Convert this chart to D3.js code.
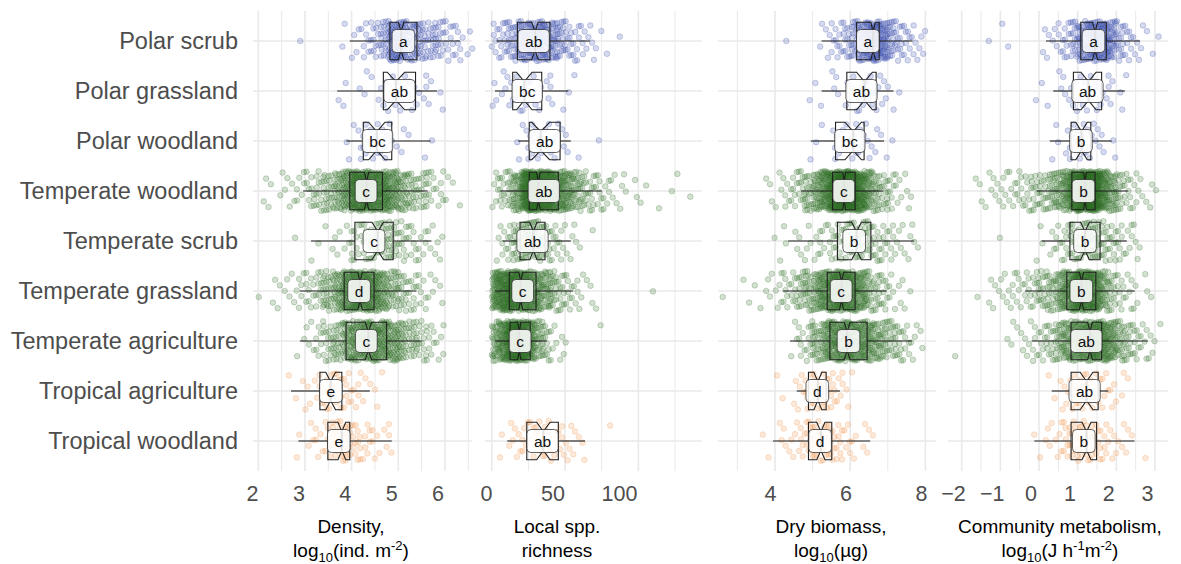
<!DOCTYPE html>
<html>
<head>
<meta charset="utf-8">
<script src="https://cdn.jsdelivr.net/npm/d3@7"></script>
<style>
  body { margin: 0; background: #fff; }
  svg { display: block; }
  text { font-family: "Liberation Sans", Arial, Helvetica, sans-serif; }
</style>
</head>
<body>
<svg id="chart" width="1181" height="564"></svg>
<script>
// Biomes, top to bottom, and the climate zone that sets each colour
const biomes = ["Polar scrub", "Polar grassland", "Polar woodland", "Temperate woodland",
  "Temperate scrub", "Temperate grassland", "Temperate agriculture", "Tropical agriculture", "Tropical woodland"];
const zones = ["Polar", "Polar", "Polar", "Temperate", "Temperate", "Temperate", "Temperate", "Tropical", "Tropical"];
const zoneColors = { Polar: "#3344aa", Temperate: "#2a6b1f", Tropical: "#ee9247" };

// Box summaries: [lower whisker, Q1, median, Q3, upper whisker]
const densityStats = [
  [3.96, 4.82, 5.06, 5.40, 6.32], [3.69, 4.68, 4.95, 5.37, 5.83], [3.89, 4.25, 4.54, 4.86, 5.69],
  [2.96, 3.96, 4.32, 4.66, 5.63], [3.13, 4.07, 4.56, 4.89, 5.71], [2.89, 3.84, 4.18, 4.48, 5.39],
  [2.89, 3.88, 4.36, 4.75, 5.50], [2.70, 3.32, 3.55, 3.79, 4.39], [2.86, 3.49, 3.79, 3.96, 4.86]];
const densityLetters = ["a", "ab", "bc", "c", "c", "d", "c", "e", "e"];

const richnessStats = [
  [3.4, 17.5, 29.5, 39.7, 67], [2.2, 14.3, 22.2, 34.1, 52.2], [18, 25.6, 33.4, 46.6, 53.9],
  [6, 25.6, 31.8, 45.4, 75], [7.5, 19.3, 28.4, 36.3, 53.9], [2.3, 12, 19.8, 30.2, 55.6],
  [2.3, 12.5, 18.8, 26.2, 37.5], null, [10.6, 23.9, 35.2, 45.4, 63.6]];
const richnessLetters = ["ab", "bc", "ab", "ab", "ab", "c", "c", "", "ab"];

const biomassStats = [
  [5.24, 6.17, 6.61, 6.77, 7.66], [5.24, 5.91, 6.38, 6.69, 7.15], [4.95, 5.61, 6.08, 6.37, 6.90],
  [4.69, 5.53, 5.84, 6.13, 6.88], [4.35, 5.66, 6.17, 6.55, 7.70], [4.22, 5.39, 5.77, 6.13, 6.97],
  [4.40, 5.46, 5.92, 6.45, 7.64], [4.58, 4.89, 5.14, 5.36, 5.73], [3.95, 4.89, 5.22, 5.51, 6.53]];
const biomassLetters = ["a", "ab", "bc", "c", "b", "c", "b", "d", "d"];

const metabolismStats = [
  [0.18, 1.08, 1.45, 1.74, 2.61], [0.37, 0.89, 1.28, 1.62, 2.22], [0.28, 0.83, 1.10, 1.34, 1.88],
  [-0.06, 0.85, 1.19, 1.45, 2.31], [0.07, 0.80, 1.19, 1.58, 2.27], [-0.36, 0.72, 1.10, 1.47, 2.48],
  [-0.19, 0.83, 1.32, 1.62, 2.81], [0.33, 0.83, 1.23, 1.53, 1.79], [-0.12, 0.83, 1.23, 1.49, 2.47]];
const metabolismLetters = ["a", "ab", "b", "b", "b", "b", "ab", "ab", "b"];

// Sites per value bin, one row per biome. Bins start at *BinStart and are *BinWidth wide.
const densityBinStart = 2.0, densityBinWidth = 0.2;   // 2.0 … 6.6
const densityCounts = [
  [0,0,0,0,1,0,0,0,0,2,4,7,12,22,45,45,30,22,18,14,10,7,3],
  [0,0,0,0,0,0,0,0,1,2,1,2,2,4,5,5,4,3,3,2,0,0,0],
  [0,0,0,0,0,0,0,0,0,2,3,6,6,5,3,2,1,1,1,0,0,0,0],
  [2,2,3,4,6,9,14,20,30,45,80,90,70,65,45,30,20,14,10,6,3,1,0],
  [0,0,0,1,0,1,1,2,3,5,8,11,14,16,15,12,8,6,4,3,0,0,0],
  [1,2,3,4,6,9,14,22,35,55,70,70,55,38,24,16,11,7,4,2,0,0,0],
  [0,0,0,0,2,4,8,14,22,36,46,52,54,48,38,28,20,13,8,5,0,0,0],
  [0,0,0,1,2,3,6,9,10,8,5,3,2,1,0,0,0,0,0,0,0,0,0],
  [0,0,0,0,2,3,5,9,14,18,12,7,5,3,2,0,0,0,0,0,0,0,0]];

const richnessBinStart = 0, richnessBinWidth = 5;     // 0 … 140
const richnessCounts = [
  [6,10,16,22,28,32,34,30,24,16,11,8,5,4,2,1,0,1,0,0,0,0,0,0,0,0,0,0],
  [3,3,4,5,5,4,3,3,2,1,1,1,0,0,0,0,0,0,0,0,0,0,0,0,0,0,0,0],
  [0,0,0,2,3,5,5,4,4,3,2,1,0,0,1,0,0,0,0,0,0,0,0,0,0,0,0,0],
  [6,10,16,28,70,100,95,75,60,45,32,22,16,11,8,5,4,3,2,2,1,1,1,0,1,1,0,1],
  [2,5,9,15,20,20,17,12,8,5,3,2,1,1,0,0,0,0,0,0,0,0,0,0,0,0,0,0],
  [45,60,70,65,55,45,35,25,18,12,8,5,3,2,1,0,0,0,0,0,0,1,0,0,0,0,0,0],
  [30,45,75,90,70,45,22,11,5,3,1,0,0,0,1,0,0,0,0,0,0,0,0,0,0,0,0,0],
  [],
  [0,2,3,4,5,6,7,7,6,5,4,3,2,0,0,0,1,0,0,0,0,0,0,0,0,0,0,0]];

const biomassBinStart = 2.6, biomassBinWidth = 0.2;   // 2.6 … 8.0
const biomassCounts = [
  [0,0,0,0,0,0,0,0,1,0,0,0,0,3,5,8,12,18,30,42,48,34,20,12,8,5,4],
  [0,0,0,0,0,0,0,0,0,0,0,1,1,1,2,2,3,4,5,5,4,3,2,1,0,0,0],
  [0,0,0,0,0,0,0,0,0,0,0,1,1,1,2,3,4,5,4,4,2,2,1,0,0,0,0],
  [0,0,0,0,0,1,2,3,5,8,12,18,28,45,70,95,100,85,60,35,20,12,8,5,3,1,0],
  [0,0,0,0,0,0,1,1,2,2,3,3,4,5,7,9,11,12,13,12,10,8,6,4,3,2,1],
  [1,0,1,1,1,2,3,5,7,10,14,20,28,40,55,62,60,50,35,22,14,9,5,3,2,0,0],
  [0,0,0,0,0,0,0,0,0,3,6,10,18,28,40,45,46,44,40,34,27,21,15,10,7,4,2],
  [0,0,0,0,0,0,0,1,1,2,4,7,9,10,8,5,2,1,0,0,0,0,0,0,0,0,0],
  [0,0,0,0,0,1,1,2,3,4,6,9,11,12,10,8,5,3,2,2,1,0,0,0,0,0,0]];

const metabolismBinStart = -2.2, metabolismBinWidth = 0.2;   // -2.2 … 3.2
const metabolismCounts = [
  [0,0,0,0,1,0,1,1,0,0,0,2,3,5,9,16,28,38,45,42,28,14,8,4,3,1,1],
  [0,0,0,0,0,0,0,0,0,0,1,1,1,2,3,4,5,5,4,3,3,2,1,0,0,0,0],
  [0,0,0,0,0,0,0,0,0,0,0,0,1,2,3,5,6,5,4,2,2,0,0,0,0,0,0],
  [0,0,1,2,3,4,5,6,7,9,11,14,18,25,40,70,100,110,90,50,28,15,9,5,3,2,1],
  [0,0,0,0,0,1,0,0,0,0,1,2,3,5,8,12,15,17,16,13,10,7,5,3,1,0,0],
  [0,0,0,1,2,3,4,5,6,8,10,13,18,26,40,60,75,70,50,28,14,8,5,3,2,1,0],
  [1,0,0,0,0,0,1,2,3,4,6,8,11,20,30,40,45,52,55,50,35,22,14,9,6,4,1],
  [0,0,0,0,0,0,0,0,0,0,0,0,1,2,4,6,7,7,6,5,4,2,1,0,0,0,0],
  [0,0,0,0,0,0,0,0,0,0,1,2,3,5,8,11,13,12,9,6,4,3,2,1,1,0,0]];

// Axis tick values per panel
const densityTicks = [2, 3, 4, 5, 6];
const richnessTicks = [0, 50, 100];
const biomassTicks = [4, 6, 8];
const metabolismTicks = [-2, -1, 0, 1, 2, 3];

// Axis titles (markup: _{..} subscript, ^{..} superscript)
const densityTitle = ["Density,", "log_{10}(ind. m^{-2})"];
const richnessTitle = ["Local spp.", "richness"];
const biomassTitle = ["Dry biomass,", "log_{10}(µg)"];
const metabolismTitle = ["Community metabolism,", "log_{10}(J h^{-1}m^{-2})"];

// ---- layout ----
const panels = [
  { stats: densityStats, letters: densityLetters, counts: densityCounts, bin0: densityBinStart, binW: densityBinWidth,
    ticks: densityTicks, title: densityTitle, px: [253, 472], domain: [1.886, 6.58], tickPx: [252, 437.5], titleX: 351 },
  { stats: richnessStats, letters: richnessLetters, counts: richnessCounts, bin0: richnessBinStart, binW: richnessBinWidth,
    ticks: richnessTicks, title: richnessTitle, px: [485, 702], domain: [-4.6, 143.4], tickPx: [486, 619], titleX: 557 },
  { stats: biomassStats, letters: biomassLetters, counts: biomassCounts, bin0: biomassBinStart, binW: biomassBinWidth,
    ticks: biomassTicks, title: biomassTitle, px: [718, 936], domain: [2.484, 8.282], tickPx: [770, 921], titleX: 831 },
  { stats: metabolismStats, letters: metabolismLetters, counts: metabolismCounts, bin0: metabolismBinStart, binW: metabolismBinWidth,
    ticks: metabolismTicks, title: metabolismTitle, px: [948, 1168], domain: [-2.354, 3.337], tickPx: [953, 1147], titleX: 1060 }
];

const svg = d3.select("#chart");
const y = d3.scalePoint().domain(biomes).range([41, 441]);
const step = y.step();
const plotTop = y(biomes[0]) - 0.6 * step;
const plotBottom = y(biomes[biomes.length - 1]) + 0.6 * step;
const boxHalf = 0.75 * step / 2;
const jitterHeight = 0.8 * step;

const gridColor = "#e9e9e9";
const inkColor = "#1f1f1f";
const fontStack = '"Liberation Sans", Arial, Helvetica, sans-serif';

// Category labels on the left
svg.append("g")
  .attr("transform", "translate(238,0)")
  .call(d3.axisLeft(y).tickSize(0).tickPadding(0))
  .call(g => g.select(".domain").remove())
  .call(g => g.selectAll("text")
    .attr("font-size", 23.5)
    .attr("fill", "#4d4d4d")
    .attr("font-family", fontStack));

function drawTitleLine(sel, markup) {
  const parts = markup.match(/_\{[^}]*\}|\^\{[^}]*\}|[^_^]+/g);
  let shift = 0;
  parts.forEach(p => {
    let txt = p, target = 0, size = null;
    if (p.startsWith("_{")) { txt = p.slice(2, -1); target = 5; size = 13; }
    else if (p.startsWith("^{")) { txt = p.slice(2, -1); target = -7; size = 13; }
    const t = sel.append("tspan").text(txt).attr("dy", target - shift);
    if (size) t.attr("font-size", size);
    shift = target;
  });
}

panels.forEach(p => {
  const x = d3.scaleLinear().domain(p.domain).range(p.px);
  const g = svg.append("g");

  // grid: majors at ticks, minors at midpoints
  const stepT = p.ticks[1] - p.ticks[0];
  const minors = d3.range(p.ticks[0] - stepT / 2, p.ticks[p.ticks.length - 1] + stepT, stepT)
    .filter(v => v >= p.domain[0] && v <= p.domain[1]);
  const majors = p.ticks.filter(v => v >= p.domain[0] && v <= p.domain[1]);

  g.append("g").selectAll("line").data(minors).join("line")
    .attr("x1", d => x(d)).attr("x2", d => x(d))
    .attr("y1", plotTop).attr("y2", plotBottom)
    .attr("stroke", gridColor).attr("stroke-width", 1.0);
  g.append("g").selectAll("line").data(majors).join("line")
    .attr("x1", d => x(d)).attr("x2", d => x(d))
    .attr("y1", plotTop).attr("y2", plotBottom)
    .attr("stroke", gridColor).attr("stroke-width", 1.6);
  g.append("g").selectAll("line").data(biomes).join("line")
    .attr("x1", p.px[0]).attr("x2", p.px[1])
    .attr("y1", d => y(d)).attr("y2", d => y(d))
    .attr("stroke", gridColor).attr("stroke-width", 1.6);

  // jittered sites: each binned site is spread across its bin and the band height
  const pts = [];
  p.counts.forEach((row, bi) => {
    let idx = 0;
    row.forEach((c, k) => {
      for (let j = 0; j < c; j++, idx++) {
        const fx = (0.5 + idx * 0.7548776662 + bi * 0.11) % 1;
        const fy = (0.5 + idx * 0.5698402910 + bi * 0.23) % 1;
        pts.push({ v: p.bin0 + p.binW * (k + fx), yy: y(biomes[bi]) + (fy - 0.5) * jitterHeight, c: zoneColors[zones[bi]] });
      }
    });
  });
  g.append("g").selectAll("circle").data(pts).join("circle")
    .attr("cx", d => x(d.v)).attr("cy", d => d.yy).attr("r", 2.8)
    .attr("fill", d => d.c).attr("fill-opacity", 0.2)
    .attr("stroke", d => d.c).attr("stroke-opacity", 0.35).attr("stroke-width", 0.7);

  // notched boxplots
  const bg = g.append("g");
  p.stats.forEach((s, i) => {
    if (!s) return;
    const [wl, q1, md, q3, wh] = s;
    const n = d3.sum(p.counts[i]);
    const yc = y(biomes[i]);
    const top = yc - boxHalf, bot = yc + boxHalf, ind = boxHalf * 0.5;
    const half = 1.58 * (q3 - q1) / Math.sqrt(n);
    const nl = md - half, nu = md + half;
    bg.append("line").attr("x1", x(wl)).attr("x2", x(q1)).attr("y1", yc).attr("y2", yc)
      .attr("stroke", inkColor).attr("stroke-width", 1.1);
    bg.append("line").attr("x1", x(q3)).attr("x2", x(wh)).attr("y1", yc).attr("y2", yc)
      .attr("stroke", inkColor).attr("stroke-width", 1.1);
    const path = d3.path();
    path.moveTo(x(q1), top); path.lineTo(x(nl), top); path.lineTo(x(md), top + ind);
    path.lineTo(x(nu), top); path.lineTo(x(q3), top); path.lineTo(x(q3), bot);
    path.lineTo(x(nu), bot); path.lineTo(x(md), bot - ind); path.lineTo(x(nl), bot);
    path.lineTo(x(q1), bot); path.closePath();
    bg.append("path").attr("d", path.toString()).attr("fill", "none")
      .attr("stroke", inkColor).attr("stroke-width", 1.1).attr("stroke-linejoin", "miter");
    bg.append("line").attr("x1", x(md)).attr("x2", x(md)).attr("y1", top + ind).attr("y2", bot - ind)
      .attr("stroke", inkColor).attr("stroke-width", 2.2);

    // significance letter
    const lx = x((q1 + q3) / 2);
    const lab = bg.append("g").attr("transform", `translate(${lx},${yc})`);
    const rect = lab.append("rect");
    const txt = lab.append("text").text(p.letters[i])
      .attr("text-anchor", "middle").attr("dy", "0.36em")
      .attr("font-size", 15.5).attr("fill", "#111");
    const w = txt.node().getComputedTextLength() + 14;
    rect.attr("x", -w / 2).attr("y", -11.5).attr("width", w).attr("height", 23)
      .attr("rx", 4).attr("fill", "#ffffff").attr("fill-opacity", 0.88)
      .attr("stroke", inkColor).attr("stroke-width", 0.7);
  });

  // bottom tick labels
  const xt = d3.scaleLinear().domain([p.ticks[0], p.ticks[p.ticks.length - 1]]).range(p.tickPx);
  svg.append("g")
    .attr("transform", "translate(0,486)")
    .call(d3.axisBottom(xt).tickValues(p.ticks).tickSize(0).tickPadding(0).tickFormat(d3.format("d")))
    .call(a => a.select(".domain").remove())
    .call(a => a.selectAll("text")
      .attr("font-size", 21.5).attr("fill", "#4d4d4d")
      .attr("font-family", fontStack));

  // axis title
  p.title.forEach((line, li) => {
    const t = svg.append("text")
      .attr("x", p.titleX).attr("y", 533 + li * 24)
      .attr("text-anchor", "middle").attr("font-size", 19).attr("fill", "#000");
    drawTitleLine(t, line);
  });
});
</script>
</body>
</html>
